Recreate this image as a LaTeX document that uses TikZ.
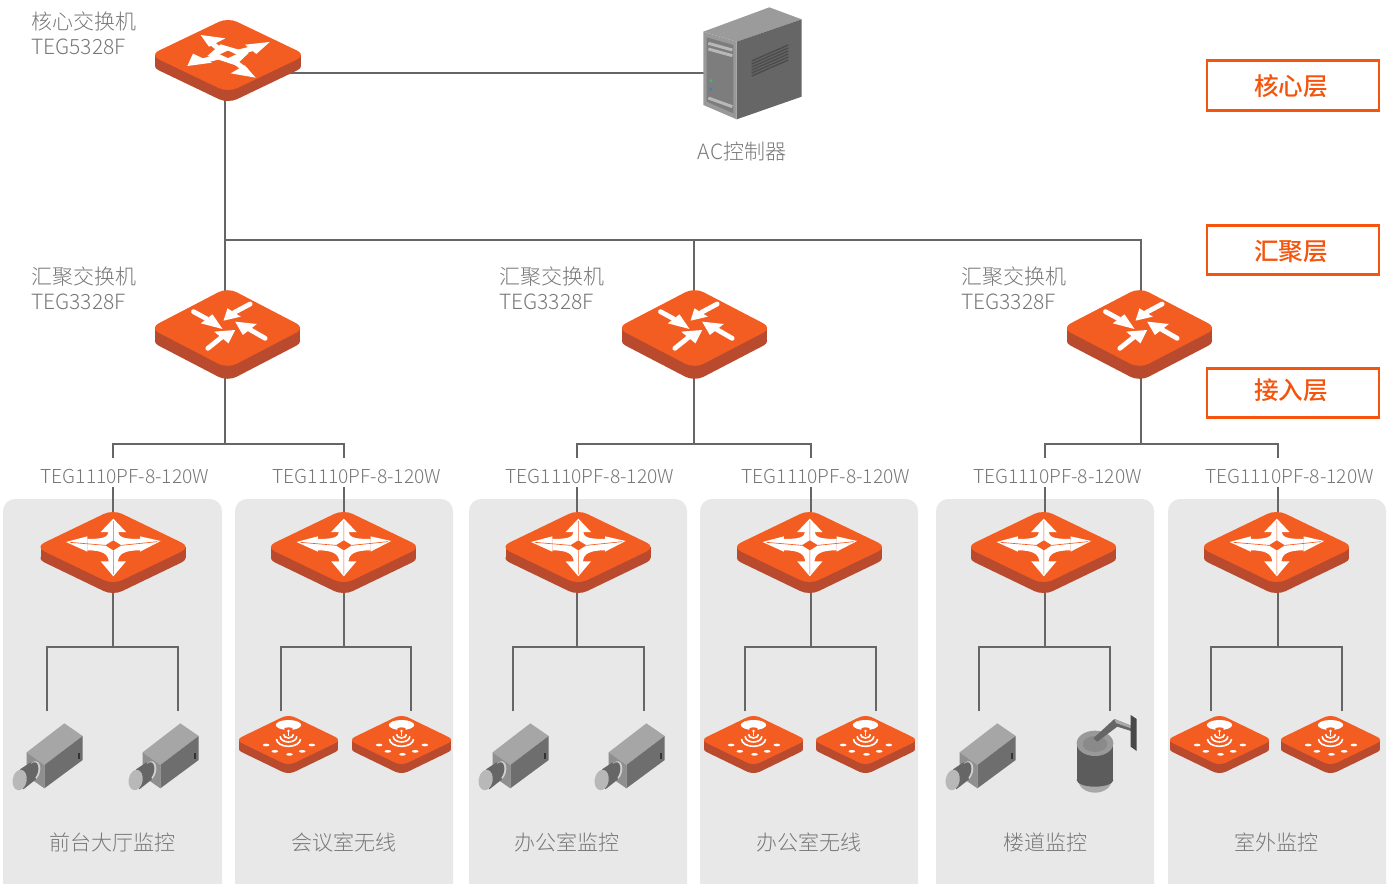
\documentclass[tikz,border=0pt]{standalone}
\usepackage{fontspec}
\setmainfont{Noto Sans CJK SC}[UprightFont=* Light,BoldFont=* Medium]
\usetikzlibrary{calc}
\definecolor{swface}{HTML}{F45D22}
\definecolor{swside}{HTML}{B94A2D}
\definecolor{tier}{HTML}{F4540C}
\definecolor{wire}{HTML}{666666}
\definecolor{txt}{HTML}{777777}
\definecolor{panel}{HTML}{E8E8E8}
\definecolor{gA6}{HTML}{A6A6A6}
\definecolor{g6E}{HTML}{6E6E6E}
\definecolor{g8F}{HTML}{8F8F8F}
\definecolor{gDD}{HTML}{CFCFCF}
\definecolor{g66}{HTML}{666666}
\definecolor{gB3}{HTML}{B8B8B8}
\definecolor{g33}{HTML}{333333}
\definecolor{g9B}{HTML}{9B9B9B}
\definecolor{gA3}{HTML}{999999}
\definecolor{g7A}{HTML}{7D7D7D}
\definecolor{gC4}{HTML}{B8B8B8}
\definecolor{ledg}{HTML}{4CAF7A}
\definecolor{ledb}{HTML}{3F7FB5}
\definecolor{g4D}{HTML}{4D4D4D}
\definecolor{gA8}{HTML}{A8A8A8}
\definecolor{g5C}{HTML}{5C5C5C}
\definecolor{g8A}{HTML}{8A8A8A}
\definecolor{g55}{HTML}{666666}
\definecolor{g44}{HTML}{484848}
\tikzset{
  wireline/.style={draw=wire,line width=1.5pt},
  panelbox/.style={fill=panel,rounded corners=9pt},
  tierbox/.style={draw=tier,line width=2.2pt,fill=white,minimum width=129pt,minimum height=37pt,inner sep=0pt,text=tier,font=\fontsize{18.5}{22}\selectfont\bfseries},
  lab/.style={text=txt,inner sep=0pt,font=\fontsize{15.75}{18.5}\selectfont},
  modellab/.style={text=txt,fill=white,inner sep=0pt,text height=18.75pt,text depth=3pt,font=\fontsize{14.4}{18}\selectfont},
  zoomed/.style={x=.25pt,y=-.25pt},
}
% switch body: cx cy hw hh t r
\newcommand\swbody[6]{%
  \pgfmathsetmacro\HH{#3+0.53*#6}\pgfmathsetmacro\VV{#4+0.25*#6}\pgfmathsetmacro\RR{0.75*#6}%
  \begin{scope}[shift={(#1,#2)}]
    \path[fill=swside,rounded corners=\RR pt] (-\HH,#5)--(0,-\VV+#5)--(\HH,#5)--(0,\VV+#5)--cycle;
    \fill[swside] (-#3,0) rectangle (#3,#5);
    \path[fill=swface,rounded corners=\RR pt] (-\HH,0)--(0,-\VV)--(\HH,0)--(0,\VV)--cycle;
  \end{scope}}
\newcommand\zarrow[4]{%
  \draw[white,line width=3.6pt,line cap=round] (#1) -- ($(#3)!.5!(#4)$);
  \fill[white] (#2) -- (#3) -- (#4) -- cycle;}
\newcommand\coresw[2]{\swbody{#1}{#2}{73}{35}{11}{10}
  \begin{scope}[shift={(#1,#2)},zoomed,shift={(-262,-157)}]
    \fill[white] (240,125)--(325,150)--(285,188)--(200,160)--cycle;
    \draw[white,line width=3.8pt] (335,138)--(185,175) (205,115)--(318,205);
    \fill[white] (387,118)--(313,126)--(347,154)--cycle;
    \fill[white] (140,190)--(157,153)--(214,180)--cycle;
    \fill[white] (180,97)--(254,107)--(205,132)--cycle;
    \fill[white] (345,225)--(270,212)--(312,188)--cycle;
    \fill[swface] (262,144)--(286,155)--(262,166)--(238,155)--cycle;
  \end{scope}}
\newcommand\aggsw[2]{\swbody{#1}{#2}{72.5}{38}{13}{10}
  \begin{scope}[shift={(#1,#2)},zoomed,shift={(-262,-144)}]
    \zarrow{160,95}{247,147}{182,130}{217,103}
    \zarrow{330,72}{250,122}{262,85}{302,110}
    \zarrow{375,175}{285,125}{350,132}{308,165}
    \zarrow{203,205}{285,150}{222,155}{265,190}
  \end{scope}}
\newcommand\accsw[2]{\swbody{#1}{#2}{72.5}{35}{11}{10}
  \begin{scope}[shift={(#1,#2)},zoomed,shift={(-249,-140)}]
    \fill[white] (236,92) .. controls (236,112) and (215,116) .. (172,116) -- (172,150)
      .. controls (215,150) and (236,160) .. (236,185) -- (264,185)
      .. controls (264,160) and (285,150) .. (330,150) -- (330,116)
      .. controls (285,116) and (264,112) .. (264,92) -- cycle;
    \fill[white] (250,55)--(288,95)--(212,95)--cycle;
    \fill[white] (250,228)--(288,183)--(212,183)--cycle;
    \fill[white] (108,125)--(172,108)--(172,154)--cycle;
    \fill[white] (392,122)--(330,108)--(330,154)--cycle;
    \fill[swface] (250,120)--(274,135)--(250,150)--(226,135)--cycle;
    \draw[swface,line width=.5pt] (250,62)--(250,120) (250,150)--(250,222) (120,126)--(226,135) (274,135)--(382,124);
  \end{scope}}
\newcommand\apsw[2]{\swbody{#1}{#2}{49.5}{24}{9}{7}
  \begin{scope}[shift={(#1,#2)},zoomed,shift={(-175,-105)}]
    \fill[white] (175,60) ellipse [x radius=38,y radius=15];
    \fill[swface] (175,72) ellipse [x radius=13,y radius=5];
    \fill[white] (175,78) circle [radius=4];
    \draw[white,line width=1.2pt] (175,78)--(175,92);
    \draw[white,line width=1.2pt] (160,88) arc [start angle=180,end angle=0,x radius=15,y radius=11];
    \draw[white,line width=1.2pt] (150,94) arc [start angle=180,end angle=0,x radius=25,y radius=17];
    \draw[white,line width=1.2pt] (139,102) arc [start angle=180,end angle=0,x radius=36,y radius=22];
    \foreach \dx/\dy in {108/120,134/139,178/148,216/139,245/120}{\fill[white] (\dx,\dy) ellipse [x radius=10,y radius=4];}
  \end{scope}}
\newcommand\boxcam[1]{%
  \begin{scope}[shift={(#1,710)},zoomed]
    \fill[gA6] (80,127)--(193,40)--(248,78)--(133,165)--cycle;
    \fill[g6E] (133,165)--(248,78)--(248,150)--(133,235)--cycle;
    \fill[g8F] (80,127)--(133,165)--(133,235)--(80,198)--cycle;
    \fill[gDD,rotate around={-15:(102,183)}] (102,183) ellipse [x radius=18,y radius=30];
    \fill[g66,rotate around={-15:(99,183)}] (99,183) ellipse [x radius=15,y radius=27];
    \fill[g66] (60,178)--(92,157)--(108,208)--(70,238)--cycle;
    \fill[gB3,rotate around={-10:(59,210)}] (59,210) ellipse [x radius=21,y radius=31];
    \fill[g33] (235,128) rectangle (240,148);
  \end{scope}}
\begin{document}
\begin{tikzpicture}[x=.75pt,y=-.75pt]
\useasboundingbox (0,0) rectangle (1389,884);
\begin{scope}
\clip (0,0) rectangle (1389,884);
\foreach \xa/\xb in {3/222,235/453,469/687,700/918,936/1154,1168/1386}{
  \path[panelbox] (\xa,499) rectangle (\xb,896);}
\end{scope}
% anchors
\coordinate (core) at (225,73);
\coordinate (server) at (705,73);
\coordinate (busL) at (225,240);
\coordinate (agg1) at (225,330);
\coordinate (agg2) at (694,330);
\coordinate (agg3) at (1141,330);
\coordinate (j1) at (225,444);
\coordinate (j2) at (694,444);
\coordinate (j3) at (1141,444);
\foreach \n/\x/\xl/\xr in {1/113/47/178,2/344/281/411,3/577/513/644,4/811/745/876,5/1045/979/1110,6/1278/1211/1342}{
  \coordinate (acc\n) at (\x,550);
  \coordinate (k\n) at (\x,647);
  \coordinate (l\n) at (\xl,711);
  \coordinate (r\n) at (\xr,711);
}
% connectors
\draw[wireline] (core) -- (server);
\draw[wireline] (core) -- (agg1);
\draw[wireline] (busL) -| (agg2);
\draw[wireline] (busL) -| (agg3);
\draw[wireline] (agg1) -- (j1);
\draw[wireline] (agg2) -- (j2);
\draw[wireline] (agg3) -- (j3);
\draw[wireline] (acc1) |- (j1) -| (acc2);
\draw[wireline] (acc3) |- (j2) -| (acc4);
\draw[wireline] (acc5) |- (j3) -| (acc6);
\foreach \n in {1,...,6}{
  \draw[wireline] (acc\n) -- (k\n);
  \draw[wireline] (l\n) |- (k\n) -| (r\n);
}
% devices
\coresw{228}{55}
\aggsw{227.5}{328}\aggsw{694.5}{328}\aggsw{1139.5}{328}
\accsw{113}{547}\accsw{343.5}{547}\accsw{578}{547}\accsw{809.5}{547}\accsw{1043.5}{547}\accsw{1276.5}{547}
\boxcam{0}\boxcam{116}\boxcam{466}\boxcam{582}\boxcam{933}
\apsw{288.5}{740}\apsw{401.5}{740}\apsw{753.5}{740}\apsw{865.5}{740}\apsw{1219.5}{740}\apsw{1330.5}{740}
% server
\begin{scope}[shift={(680,0)},zoomed]
  \fill[g9B] (70,95)--(268,22)--(365,58)--(170,125)--cycle;
  \fill[g66] (170,125)--(365,58)--(365,290)--(170,358)--cycle;
  \fill[gA3] (70,95)--(170,125)--(170,358)--(70,315)--cycle;
  \fill[g7A] (80,112)--(160,135)--(160,340)--(80,305)--cycle;
  \draw[gC4,line width=2.2pt] (85,130)--(157,150) (85,147)--(157,167) (85,294)--(157,320);
  \fill[ledg] (93,242) circle [radius=5];
  \fill[ledb] (93,267) circle [radius=5];
  \foreach \k in {0,1,2,3,4,5}{\draw[g4D,line width=1.1pt] (215,{183+\k*9})--(325,{135+\k*9});}
\end{scope}
% ptz
\begin{scope}[shift={(1060,705)},zoomed]
  \fill[gA8] (105,225) ellipse [x radius=50,y radius=38];
  \fill[g5C] (50,115) rectangle (160,225);
  \fill[g5C] (105,225) ellipse [x radius=55,y radius=20];
  \fill[gA3] (105,115) ellipse [x radius=55,y radius=38];
  \fill[g8A] (105,117) ellipse [x radius=37,y radius=24];
  \fill[g55] (100,100)--(163,42)--(213,62)--(213,78)--(172,65)--(112,110)--cycle;
  \fill[gA8] (163,42)--(213,62)--(213,70)--(168,54)--cycle;
  \fill[g44] (212,30)--(230,42)--(230,138)--(212,125)--cycle;
\end{scope}
% labels
\node[lab,anchor=west,align=left] (lcore) at (31,33.5) {核心交换机\\TEG5328F};
\node[lab,anchor=west,align=left] (la1) at (31,288) {汇聚交换机\\TEG3328F};
\node[lab,anchor=west,align=left] (la2) at (499,288) {汇聚交换机\\TEG3328F};
\node[lab,anchor=west,align=left] (la3) at (961,288.5) {汇聚交换机\\TEG3328F};
\node[lab] (lsrv) at (742,152) {AC控制器};
\foreach \n/\x in {1/125,2/357,3/590,4/826,5/1057.5,6/1289.5}{
  \node[modellab] (m\n) at (\x,472.5) {TEG1110PF-8-120W};}
\node[lab] (z1) at (112,842) {前台大厅监控};
\node[lab] (z2) at (343.5,842) {会议室无线};
\node[lab] (z3) at (566.5,842) {办公室监控};
\node[lab] (z4) at (808.5,842) {办公室无线};
\node[lab] (z5) at (1045,842) {楼道监控};
\node[lab] (z6) at (1276,842) {室外监控};
\node[tierbox] (t1) at (1293,85.5) {\kern-3pt\raisebox{-.6pt}[\height][\depth]{核心层}};
\node[tierbox] (t2) at (1293,250) {\kern-3pt\raisebox{-1.2pt}[\height][\depth]{汇聚层}};
\node[tierbox] (t3) at (1293,393) {\kern-3pt\raisebox{2.25pt}[\height][\depth]{接入层}};
\end{tikzpicture}
\end{document}
